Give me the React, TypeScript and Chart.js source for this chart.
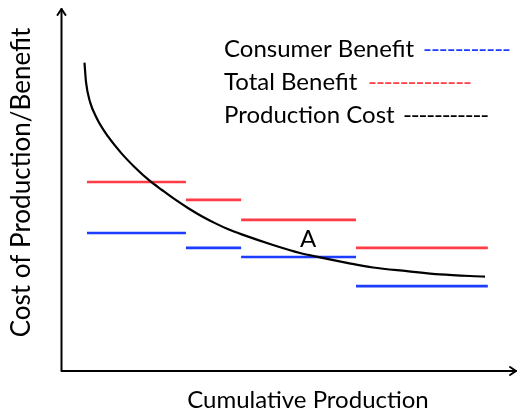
import React, { useEffect, useRef } from "react";
import { Chart, registerables } from "chart.js";

Chart.register(...registerables);

// Production cost curve (x: cumulative production, y: cost), arbitrary units 0-100
const costCurveX = [5.15, 5.48, 6.36, 7.89, 10.31, 13.31, 16.23, 19.3, 22.15, 25.0, 27.92, 30.86, 33.77, 36.69, 39.63, 46.49, 52.41, 56.8, 62.72, 68.42, 75.88, 83.11, 92.98];
const costCurveY = [85.0, 79.7, 74.2, 69.6, 64.7, 60.0, 56.2, 52.7, 50.0, 47.4, 45.0, 42.8, 40.9, 39.2, 37.8, 34.9, 32.7, 31.5, 30.0, 28.7, 27.7, 26.8, 26.2];

// Step boundaries along cumulative production
const stepEdges = [5.7, 27.4, 39.5, 64.7, 93.6];
const totalBenefit = [52.2, 47.3, 41.8, 34.1];
const consumerBenefit = [38.2, 34.1, 31.6, 23.6];

const legendLabels = ["Consumer Benefit", "Total Benefit", "Production Cost"];
const legendDashes = ["-----------", "-------------", "-----------"];
const xTitle = "Cumulative Production";
const yTitle = "Cost of Production/Benefit";
const markLabel = "A";
const markX = [54.2];
const markY = [34.4];

const RED = "#ff3b46";
const BLUE = "#1c3cff";
const BLACK = "#000000";
const FONT = "Lato, 'Open Sans', sans-serif";

function stepData(edges: number[], levels: number[]) {
  const pts: { x: number; y: number | null }[] = [];
  levels.forEach((v, i) => {
    pts.push({ x: edges[i], y: v });
    pts.push({ x: edges[i + 1], y: v });
    pts.push({ x: edges[i + 1], y: null });
  });
  return pts;
}

const decorPlugin = {
  id: "decor",
  beforeDatasetsDraw(chart: any) {
    const { ctx, chartArea } = chart;
    const { left, right, top, bottom } = chartArea;
    ctx.save();
    ctx.strokeStyle = "#000";
    ctx.lineWidth = 2;
    ctx.lineJoin = "round";
    ctx.lineCap = "round";
    // axes
    ctx.beginPath();
    ctx.moveTo(left + 0.5, top + 1);
    ctx.lineTo(left + 0.5, bottom - 1);
    ctx.lineTo(right - 1, bottom - 1);
    ctx.stroke();
    // arrow heads
    ctx.beginPath();
    ctx.moveTo(left + 0.5 - 4, top + 7);
    ctx.lineTo(left + 0.5, top + 1);
    ctx.lineTo(left + 0.5 + 4, top + 7);
    ctx.stroke();
    ctx.beginPath();
    ctx.moveTo(right - 7, bottom - 1 - 4);
    ctx.lineTo(right - 1, bottom - 1);
    ctx.lineTo(right - 7, bottom - 1 + 4);
    ctx.stroke();
    ctx.restore();
  },
  afterDraw(chart: any) {
    const { ctx, scales } = chart;
    ctx.save();
    ctx.fillStyle = "#000";
    ctx.font = `24px ${FONT}`;
    ctx.textBaseline = "alphabetic";
    // x title
    ctx.textAlign = "center";
    ctx.fillText(xTitle, 308, 408);
    // y title
    ctx.save();
    ctx.font = `26px ${FONT}`;
    ctx.translate(30, 182.5);
    ctx.rotate(-Math.PI / 2);
    ctx.fillText(yTitle, 0, 0);
    ctx.restore();
    // point label
    ctx.fillText(markLabel, scales.x.getPixelForValue(markX[0]), scales.y.getPixelForValue(markY[0]));
    // legend
    const colors = [BLUE, RED, BLACK];
    const baselines = [56.5, 89.5, 123];
    const dashStart = [423, 368, 403];
    const dashEnd = [510, 471, 488];
    ctx.textAlign = "left";
    legendLabels.forEach((lab, i) => {
      ctx.fillStyle = "#000";
      ctx.letterSpacing = "0px";
      ctx.fillText(lab, 224, baselines[i]);
      const s = legendDashes[i];
      const w = ctx.measureText(s).width;
      const ls = (dashEnd[i] - dashStart[i] - w) / s.length;
      ctx.letterSpacing = `${ls}px`;
      ctx.fillStyle = colors[i];
      ctx.fillText(s, dashStart[i], baselines[i]);
    });
    ctx.restore();
  },
};

export default function App() {
  const ref = useRef<HTMLCanvasElement | null>(null);
  useEffect(() => {
    if (!ref.current) return;
    const chart = new Chart(ref.current, {
      type: "line",
      data: {
        datasets: [
          {
            label: "Production Cost",
            data: costCurveX.map((x, i) => ({ x, y: costCurveY[i] })),
            borderColor: BLACK,
            borderWidth: 2.2,
            pointRadius: 0,
            cubicInterpolationMode: "monotone",
          },
          {
            label: "Total Benefit",
            data: stepData(stepEdges, totalBenefit) as any,
            borderColor: RED,
            borderWidth: 2.6,
            pointRadius: 0,
            spanGaps: false,
          },
          {
            label: "Consumer Benefit",
            data: stepData(stepEdges, consumerBenefit) as any,
            borderColor: BLUE,
            borderWidth: 2.6,
            pointRadius: 0,
            spanGaps: false,
          },
        ],
      },
      options: {
        animation: false,
        responsive: false,
        devicePixelRatio: 1,
        layout: { padding: { left: 61, top: 8, right: 2, bottom: 46 } },
        scales: {
          x: { type: "linear", min: 0, max: 100, display: false },
          y: { type: "linear", min: 0, max: 100, display: false },
        },
        plugins: { legend: { display: false }, tooltip: { enabled: false } },
      },
      plugins: [decorPlugin],
    });
    return () => chart.destroy();
  }, []);
  return (
    <div style={{ position: "absolute", left: 0, top: 0, width: 519, height: 418, background: "#fff" }}>
      <canvas ref={ref} width={519} height={418} style={{ display: "block" }} />
    </div>
  );
}
